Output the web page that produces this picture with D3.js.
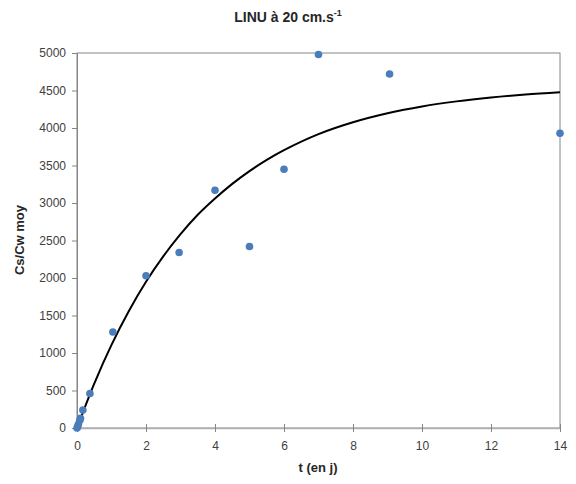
<!DOCTYPE html>
<html><head><meta charset="utf-8">
<script src="https://cdn.jsdelivr.net/npm/d3@7"></script>
<style>body{margin:0;background:#fff}</style>
</head><body>
<svg id="c" width="576" height="484"></svg>
<script>
const tValues = [0, 0.02, 0.04, 0.08, 0.1, 0.17, 0.375, 1.04, 2, 2.96, 4, 5, 6, 7, 9.06, 14];
const ratioValues = [0, 20, 50, 100, 130, 240, 460, 1280, 2030, 2340, 3170, 2420, 3450, 4980, 4720, 3930];
const fitT = [0, 0.5, 1, 1.5, 2, 2.5, 3, 3.5, 4, 4.5, 5, 5.5, 6, 7, 8, 9, 10, 11, 12, 13, 14];
const fitValues = [0, 593, 1109, 1558, 1951, 2289, 2585, 2843, 3060, 3255, 3425, 3575, 3705, 3918, 4076, 4196, 4287, 4355, 4407, 4447, 4478];
const xTicks = [0, 2, 4, 6, 8, 10, 12, 14];
const yTicks = [0, 500, 1000, 1500, 2000, 2500, 3000, 3500, 4000, 4500, 5000];

const svg = d3.select('#c');
const font = 'Liberation Sans, Arial, sans-serif';
const x = d3.scaleLinear().domain([0, 14]).range([77, 560]);
const y = d3.scaleLinear().domain([0, 5000]).range([428, 53]);
const axisCol = '#868686';

// plot frame
svg.append('rect').attr('x', x(0)).attr('y', y(5000))
  .attr('width', x(14) - x(0)).attr('height', y(0) - y(5000))
  .attr('fill', 'none').attr('stroke', axisCol).attr('stroke-width', 1);

// axes
const xa = svg.append('g').attr('transform', 'translate(0,428)')
  .call(d3.axisBottom(x).tickValues(xTicks).tickFormat(d3.format('d')).tickSize(5).tickSizeOuter(0).tickPadding(6));
xa.selectAll('.tick line').attr('y1', -4).attr('y2', 4);
const ya = svg.append('g').attr('transform', 'translate(77,0)')
  .call(d3.axisLeft(y).tickValues(yTicks).tickFormat(d3.format('d')).tickSize(5).tickSizeOuter(0).tickPadding(6));
xa.select('.domain').attr('stroke', '#b0b0b0').attr('stroke-width', 1.5);
ya.select('.domain').attr('stroke', axisCol);
[xa, ya].forEach(a => {
  a.selectAll('.tick line').attr('stroke', axisCol);
  a.selectAll('.tick text').attr('fill', '#404040').style('font-family', font).style('font-size', '12px');
});
xa.selectAll('.tick text').attr('dy', '0.9em');

// fitted curve
const line = d3.line().x((d, i) => x(fitT[i])).y(d => y(d)).curve(d3.curveCatmullRom);
svg.append('path').datum(fitValues).attr('d', line)
  .attr('fill', 'none').attr('stroke', '#000').attr('stroke-width', 2);

// points
svg.append('g').selectAll('circle').data(ratioValues).join('circle')
  .attr('cx', (d, i) => x(tValues[i])).attr('cy', d => y(d)).attr('r', 3.8)
  .attr('fill', '#4a7ebb');

// title
const t = svg.append('text').attr('x', 288).attr('y', 22).attr('text-anchor', 'middle')
  .style('font-family', font).style('font-size', '14px').style('font-weight', 'bold').attr('fill', '#262626');
t.append('tspan').text('LINU à 20 cm.s');
t.append('tspan').text('-1').attr('dy', -6).style('font-size', '9px');

svg.append('text').attr('x', 318).attr('y', 472).attr('text-anchor', 'middle')
  .style('font-family', font).style('font-size', '13px').style('font-weight', 'bold').attr('fill', '#262626')
  .text('t (en j)');
svg.append('text').attr('transform', 'translate(24,240) rotate(-90)').attr('text-anchor', 'middle')
  .style('font-family', font).style('font-size', '13px').style('font-weight', 'bold').attr('fill', '#262626')
  .text('Cs/Cw moy');
</script>
</body></html>
